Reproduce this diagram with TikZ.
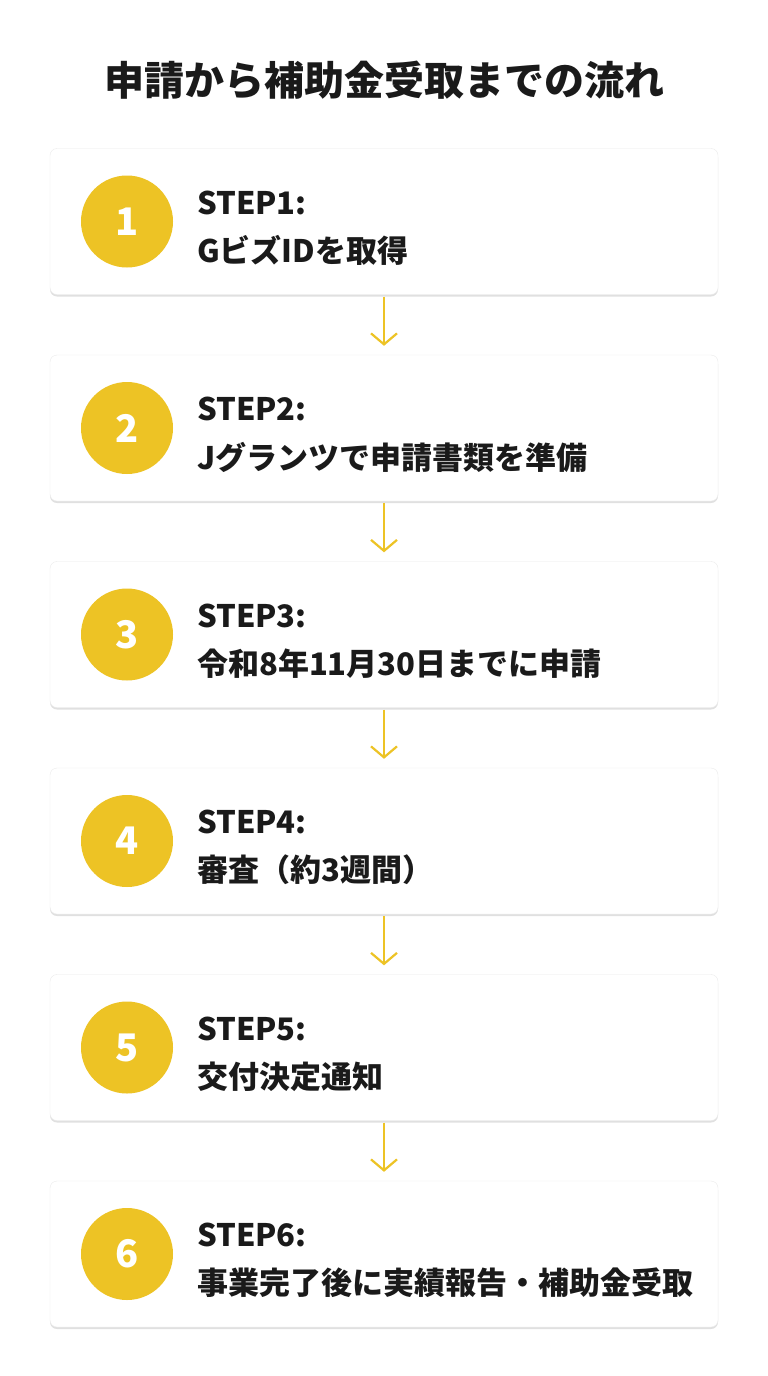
\documentclass[tikz,border=0pt]{standalone}
\usepackage{fontspec}
\setmainfont{Noto Sans CJK JP}
\usetikzlibrary{shadows,arrows.meta}
\definecolor{yel}{HTML}{EDC325}
\definecolor{txt}{HTML}{1A1A1A}
\tikzset{
  x=1pt,y=-1pt,
  card/.style={draw=black!8,fill=white,rounded corners=7pt,minimum width=668pt,minimum height=146pt,
    drop shadow={shadow xshift=0pt,shadow yshift=-2pt,opacity=0.12,fill=black}},
  num/.style={circle,fill=yel,minimum size=92pt,text=white,font=\bfseries\fontsize{38}{38}\selectfont,inner sep=0pt},
  steplbl/.style={anchor=west,text=txt,font=\bfseries\fontsize{31}{36}\selectfont,inner sep=0pt},
  flow/.style={draw=yel,line width=2.2pt,-{Straight Barb[length=11pt,width=26pt,line width=2.2pt]}}
}
\begin{document}
\begin{tikzpicture}
\useasboundingbox (0,0) rectangle (768,1376);
\fill[white] (0,0) rectangle (768,1376);
\node[text=txt,font=\bfseries\fontsize{40}{44}\selectfont] (title) at (384,80) {申請から補助金受取までの流れ};
\foreach \i/\t in {1/{GビズIDを取得},2/{Jグランツで申請書類を準備},3/{令和8年11月30日までに申請},4/{審査（約3週間）},5/{交付決定通知},6/{事業完了後に実績報告・補助金受取}}{
  \pgfmathsetmacro{\cy}{221.5+(\i-1)*206.5}
  \node[card] (c\i) at (384,\cy) {};
  \node[num] (n\i) at (127,\cy) {\i};
  \node[steplbl] (s\i) at (197,\cy-19) {STEP\i:};
  \node[steplbl] (t\i) at (197,\cy+29) {\t};
}
\foreach \a/\b in {1/2,2/3,3/4,4/5,5/6}{
  \draw[flow] ([yshift=-2pt]c\a.south) -- ([yshift=9pt]c\b.north);
}
\end{tikzpicture}
\end{document}
